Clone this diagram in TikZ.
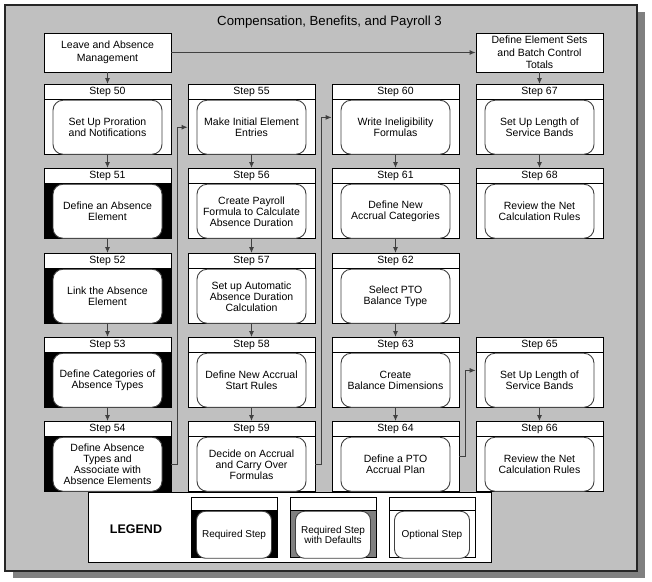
\documentclass[tikz,border=0pt]{standalone}
\usepackage{fontspec}
\setmainfont{Liberation Sans}
\usetikzlibrary{arrows.meta}

\definecolor{panelgray}{HTML}{C0C0C0}
\definecolor{shadowgray}{HTML}{808080}
\definecolor{linegray}{HTML}{404040}

% step box: name, x, top y, number, text, fill of the frame
\newcommand{\stepbox}[6]{%
  \node[frame, fill=#6] (#1) at (#2,#3) {};
  \node[bar] (#1t) at (#1.north) {Step #4};
  \node[body] (#1i) at (#1t.south) {#5};
}
% legend box: name, x, fill of the frame, text
\newcommand{\legbox}[4]{%
  \node[lframe, fill=#3] (#1) at (#2,497) {};
  \node[lbar] (#1t) at (#1.north) {};
  \node[lbody] (#1i) at (#1t.south) {#4};
}

\tikzset{
  frame/.style={draw, line width=0.8pt, anchor=north, inner sep=0pt,
    minimum width=127pt, minimum height=70pt},
  bar/.style={draw, line width=0.8pt, fill=white, anchor=north, inner sep=0pt,
    minimum width=127pt, minimum height=15pt, font=\fontsize{10.5}{11}\selectfont},
  body/.style={draw=linegray, line width=0.9pt, fill=white, rounded corners=10pt,
    anchor=north, inner sep=2pt, align=center, minimum width=109pt,
    minimum height=54pt, font=\fontsize{10.5}{11}\selectfont},
  lframe/.style={draw, line width=0.8pt, anchor=north, inner sep=0pt,
    minimum width=86pt, minimum height=60pt},
  lbar/.style={draw, line width=0.8pt, fill=white, anchor=north, inner sep=0pt,
    minimum width=86pt, minimum height=13pt},
  lbody/.style={draw=linegray, line width=0.9pt, fill=white, rounded corners=9pt,
    anchor=north, inner sep=1pt, align=center, minimum width=75pt,
    minimum height=47pt, font=\fontsize{10}{10}\selectfont},
  topbox/.style={draw, line width=0.8pt, fill=white, align=center, inner sep=0pt,
    minimum width=127pt, minimum height=39pt, font=\fontsize{10.5}{12.5}\selectfont},
  arr/.style={draw=linegray, line width=0.9pt, -{Latex[length=6pt,width=5pt]}},
}

\begin{document}
\begin{tikzpicture}[x=1pt,y=-1pt]
  \useasboundingbox (0,0) rectangle (652,581);
  % panel with its shadow
  \fill[shadowgray] (13,12) rectangle (645,578);
  \draw[fill=panelgray, line width=1.2pt, draw=black!85] (5,5) rectangle (637,571);
  \node[font=\fontsize{13.2}{15}\selectfont] (title) at (329.5,22)
    {Compensation, Benefits, and Payroll 3};

  \node[topbox] (lam) at (107.5,52.5) {Leave and Absence\\Management};
  \node[topbox] (des) at (539.5,52.5) {Define Element Sets\\and Batch Control\\Totals};

  % column 1
  \stepbox{s50}{107.5}{84}{50}{Set Up Proration\\and Notifications}{white}
  \stepbox{s51}{107.5}{168}{51}{Define an Absence\\Element}{black}
  \stepbox{s52}{107.5}{253}{52}{Link the Absence\\Element}{black}
  \stepbox{s53}{107.5}{337}{53}{Define Categories of\\Absence Types}{black}
  \stepbox{s54}{107.5}{421}{54}{Define Absence\\Types and\\Associate with\\Absence Elements}{black}
  % column 2
  \stepbox{s55}{251.5}{84}{55}{Make Initial Element\\Entries}{white}
  \stepbox{s56}{251.5}{168}{56}{Create Payroll\\Formula to Calculate\\Absence Duration}{white}
  \stepbox{s57}{251.5}{253}{57}{Set up Automatic\\Absence Duration\\Calculation}{white}
  \stepbox{s58}{251.5}{337}{58}{Define New Accrual\\Start Rules}{white}
  \stepbox{s59}{251.5}{421}{59}{Decide on Accrual\\and Carry Over\\Formulas}{white}
  % column 3
  \stepbox{s60}{395.5}{84}{60}{Write Ineligibility\\Formulas}{white}
  \stepbox{s61}{395.5}{168}{61}{Define New\\Accrual Categories}{white}
  \stepbox{s62}{395.5}{253}{62}{Select  PTO\\Balance Type}{white}
  \stepbox{s63}{395.5}{337}{63}{Create\\Balance Dimensions}{white}
  \stepbox{s64}{395.5}{421}{64}{Define a PTO\\Accrual Plan}{white}
  % column 4
  \stepbox{s67}{539.5}{84}{67}{Set Up Length of\\Service Bands}{white}
  \stepbox{s68}{539.5}{168}{68}{Review the Net\\Calculation Rules}{white}
  \stepbox{s65}{539.5}{337}{65}{Set Up Length of\\Service Bands}{white}
  \stepbox{s66}{539.5}{421}{66}{Review the Net\\Calculation Rules}{white}

  % connectors
  \draw[arr] (lam) -- (s50);
  \draw[arr] (lam) -- (des);
  \draw[arr] (des) -- (s67);
  \draw[arr] (s50) -- (s51);
  \draw[arr] (s51) -- (s52);
  \draw[arr] (s52) -- (s53);
  \draw[arr] (s53) -- (s54);
  \draw[arr] (s54.east |- s54i) -- ++(6,0) |- (s55.west |- s55i);
  \draw[arr] (s55) -- (s56);
  \draw[arr] (s56) -- (s57);
  \draw[arr] (s57) -- (s58);
  \draw[arr] (s58) -- (s59);
  \draw[arr] (s59.east |- s59i) -- ++(6,0) |- ([yshift=2pt]s60.west);
  \draw[arr] (s60) -- (s61);
  \draw[arr] (s61) -- (s62);
  \draw[arr] (s62) -- (s63);
  \draw[arr] (s63) -- (s64);
  \draw[arr] (s64.east) -- ++(6,0) |- ([yshift=2pt]s65.west);
  \draw[arr] (s67) -- (s68);
  \draw[arr] (s65) -- (s66);

  % legend
  \node[draw, line width=0.8pt, fill=white, minimum width=403pt, minimum height=70pt]
    (leg) at (289.5,527) {};
  \node[font=\bfseries\fontsize{12.5}{14}\selectfont] (legt) at (136,529) {LEGEND};
  \legbox{lreq}{234}{black}{Required Step}
  \legbox{ldef}{333}{shadowgray}{Required Step\\with Defaults}
  \legbox{lopt}{432}{white}{Optional Step}
\end{tikzpicture}
\end{document}
